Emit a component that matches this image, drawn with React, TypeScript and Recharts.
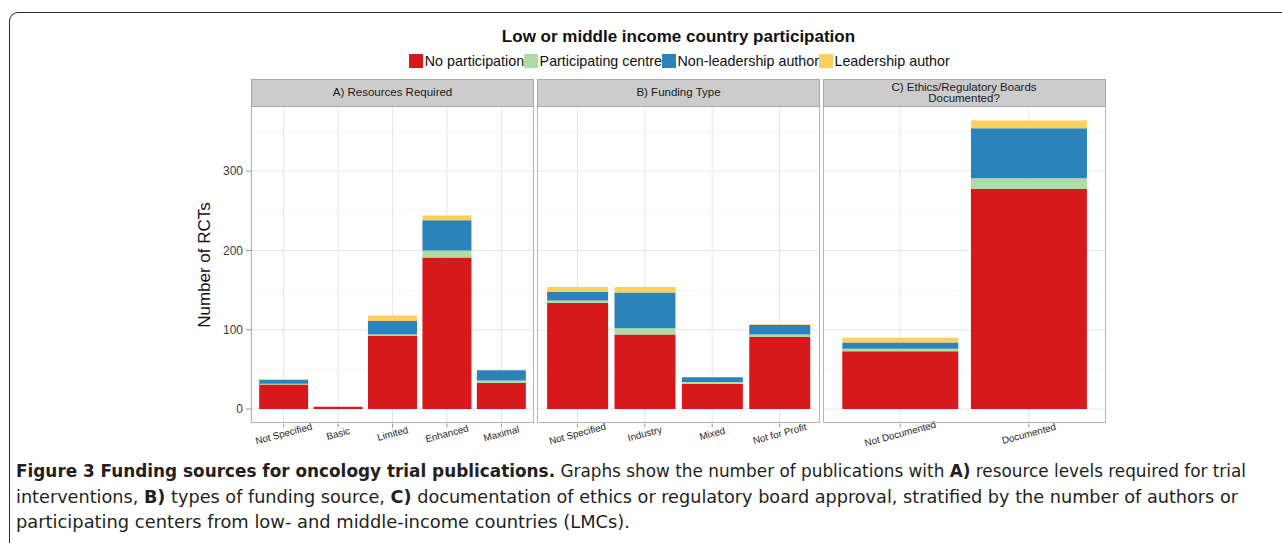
import React from 'react';
import { BarChart, Bar, XAxis, YAxis, CartesianGrid } from 'recharts';

// Panel categories
const resourceCats = ['Not Specified', 'Basic', 'Limited', 'Enhanced', 'Maximal'];
const fundingCats = ['Not Specified', 'Industry', 'Mixed', 'Not for Profit'];
const ethicsCats = ['Not Documented', 'Documented'];

// A) Resources Required
const resNoPart = [31, 3, 92, 191, 33];
const resCentre = [1, 0, 2, 9, 3];
const resNonLead = [5, 0, 17, 38, 13];
const resLead = [1, 0, 7, 6, 0];

// B) Funding Type
const fundNoPart = [134, 94, 32, 91];
const fundCentre = [3, 8, 2, 3];
const fundNonLead = [11, 45, 6, 12];
const fundLead = [6, 7, 0, 1];

// C) Ethics/Regulatory Boards Documented?
const ethNoPart = [73, 278];
const ethCentre = [3, 13];
const ethNonLead = [8, 63];
const ethLead = [6, 10];

const yTicks = [0, 100, 200, 300];
const yMinor = [50, 150, 250, 350];

const SERIES = [
  { key: 'noPart', name: 'No participation', color: '#d7191c' },
  { key: 'centre', name: 'Participating centre', color: '#addda5' },
  { key: 'nonLead', name: 'Non-leadership author', color: '#2b83ba' },
  { key: 'lead', name: 'Leadership author', color: '#fdd05e' },
];

const build = (cats: string[], a: number[], b: number[], c: number[], d: number[]) =>
  cats.map((cat, i) => ({ cat, noPart: a[i], centre: b[i], nonLead: c[i], lead: d[i] }));

const panels = [
  { title: ['A) Resources Required'], data: build(resourceCats, resNoPart, resCentre, resNonLead, resLead), left: 251 },
  { title: ['B) Funding Type'], data: build(fundingCats, fundNoPart, fundCentre, fundNonLead, fundLead), left: 537 },
  { title: ['C) Ethics/Regulatory Boards', 'Documented?'], data: build(ethicsCats, ethNoPart, ethCentre, ethNonLead, ethLead), left: 822.5 },
];

const PANEL_W = 283;
const PLOT_TOP = 105.5;
const PLOT_H = 317.5;
const STRIP_TOP = 78.5;
const AXIS_H = 40;
const Y_W = 60;
const DOMAIN: [number, number] = [-18.2, 382.2];

const RotTick = (props: any) => {
  const { x, y, payload } = props;
  const cy = y + 4;
  return (
    <text
      x={x}
      y={cy}
      transform={`rotate(-15 ${x} ${cy})`}
      textAnchor="middle"
      dominantBaseline="central"
      fontSize={9.8}
      fill="#262626"
    >
      {payload.value}
    </text>
  );
};

const Panel = ({ panel, first }: { panel: any; first: boolean }) => {
  const n = panel.data.length;
  const pad = (PANEL_W / (n + 0.2)) * 0.1;
  const extra = first ? Y_W : 0;
  return (
    <>
      <div style={{ position: 'absolute', left: panel.left - extra, top: PLOT_TOP }}>
        <BarChart
          width={PANEL_W + extra}
          height={PLOT_H + AXIS_H}
          data={panel.data}
          margin={{ top: 0, right: 0, bottom: 0, left: 0 }}
          barCategoryGap="5%"
        >
          <CartesianGrid vertical={false} horizontalValues={yMinor} stroke="#f3f3f3" strokeWidth={0.8} />
          <CartesianGrid horizontalValues={yTicks} stroke="#e6e6e6" strokeWidth={1} />
          <XAxis
            dataKey="cat"
            type="category"
            interval={0}
            padding={{ left: pad, right: pad }}
            axisLine={false}
            tickSize={4}
            tickLine={{ stroke: '#999' }}
            tick={<RotTick />}
            height={AXIS_H}
          />
          <YAxis
            type="number"
            domain={DOMAIN}
            allowDataOverflow
            ticks={yTicks}
            hide={!first}
            width={Y_W}
            axisLine={false}
            tickSize={5}
            tickMargin={3}
            tickLine={{ stroke: '#999' }}
            tick={{ fontSize: 12, fill: '#3a3a3a' }}
          />
          {SERIES.map((s) => (
            <Bar key={s.key} dataKey={s.key} stackId="a" fill={s.color} isAnimationActive={false} />
          ))}
        </BarChart>
      </div>
      <div
        style={{
          position: 'absolute', left: panel.left, top: PLOT_TOP, width: PANEL_W, height: PLOT_H,
          border: '1px solid #b5b5b5', boxSizing: 'border-box', pointerEvents: 'none',
        }}
      />
      <div
        style={{
          position: 'absolute', left: panel.left, top: STRIP_TOP, width: PANEL_W, height: PLOT_TOP - STRIP_TOP + 1,
          background: '#cccccc', border: '1px solid #a8a8a8', boxSizing: 'border-box',
          display: 'flex', flexDirection: 'column', justifyContent: 'center', alignItems: 'center',
          fontSize: 11.5, lineHeight: '10.5px', color: '#1a1a1a',
        }}
      >
        {panel.title.map((t: string) => <div key={t}>{t}</div>)}
      </div>
    </>
  );
};

const App = () => {
  return (
    <div
      style={{
        position: 'absolute', left: 0, top: 0, width: 1282, height: 543, overflow: 'hidden',
        background: '#fff', fontFamily: '"Liberation Sans", Arial, sans-serif',
      }}
    >
      <div
        style={{
          position: 'absolute', left: 9, top: 12, width: 1400, height: 700,
          borderTop: '1.5px solid #2a2a2a', borderLeft: '1.5px solid #2a2a2a', borderTopLeftRadius: 9,
        }}
      />
      <div
        style={{
          position: 'absolute', left: 378.5, top: 25.5, width: 600, textAlign: 'center',
          fontSize: 17, fontWeight: 'bold', lineHeight: '21px', color: '#111',
        }}
      >
        Low or middle income country participation
      </div>
      <div
        style={{
          position: 'absolute', left: 379.5, top: 53, width: 600, display: 'flex', justifyContent: 'center',
          alignItems: 'center', fontSize: 14.3, lineHeight: '16px', color: '#111', whiteSpace: 'nowrap',
        }}
      >
        {SERIES.map((s) => (
          <div key={s.key} style={{ display: 'flex', alignItems: 'center' }}>
            <div style={{ width: 14, height: 14, background: s.color, marginRight: 1.5 }} />
            <span>{s.name}</span>
          </div>
        ))}
      </div>
      <div
        style={{
          position: 'absolute', left: 205 - 80, top: 265 - 10, width: 160, height: 20, lineHeight: '20px',
          textAlign: 'center', fontSize: 17, color: '#111', transform: 'rotate(-90deg)',
        }}
      >
        Number of RCTs
      </div>
      {panels.map((p, i) => <Panel key={i} panel={p} first={i === 0} />)}
      <svg
        width={1282}
        height={93}
        style={{ position: 'absolute', left: 0, top: 450 }}
        fontFamily='"Liberation Sans Narrow", "DejaVu Sans Condensed", "Liberation Sans", sans-serif'
        fontSize={17}
        fill="#231f20"
      >
        <text x={16} y={27} textLength={1230} lengthAdjust="spacingAndGlyphs" style={{ whiteSpace: 'pre' }}>
          <tspan fontWeight="bold">Figure 3 Funding sources for oncology trial publications.</tspan>
          <tspan> Graphs show the number of publications with </tspan>
          <tspan fontWeight="bold">A)</tspan>
          <tspan> resource levels required for trial</tspan>
        </text>
        <text x={16} y={53} textLength={1222} lengthAdjust="spacingAndGlyphs" style={{ whiteSpace: 'pre' }}>
          <tspan>interventions, </tspan>
          <tspan fontWeight="bold">B)</tspan>
          <tspan> types of funding source, </tspan>
          <tspan fontWeight="bold">C)</tspan>
          <tspan> documentation of ethics or regulatory board approval, stratified by the number of authors or</tspan>
        </text>
        <text x={16} y={78} textLength={614} lengthAdjust="spacingAndGlyphs" style={{ whiteSpace: 'pre' }}>
          participating centers from low- and middle-income countries (LMCs).
        </text>
      </svg>
    </div>
  );
};

export default App;
